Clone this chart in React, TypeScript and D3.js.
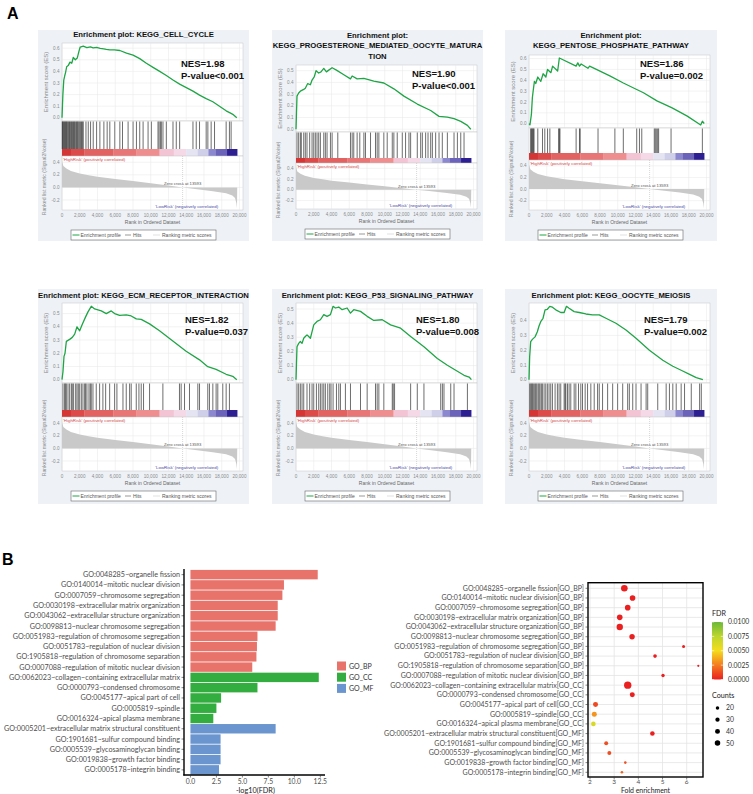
import React from 'react';
import * as d3 from 'd3';

type Pt = [number, number];

// ================= Panel A data (GSEA) =================
const gseaTitles: string[][] = [
  ['Enrichment plot: KEGG_CELL_CYCLE'],
  ['Enrichment plot:', 'KEGG_PROGESTERONE_MEDIATED_OOCYTE_MATURA', 'TION'],
  ['Enrichment plot:', 'KEGG_PENTOSE_PHOSPHATE_PATHWAY'],
  ['Enrichment plot: KEGG_ECM_RECEPTOR_INTERACTION'],
  ['Enrichment plot: KEGG_P53_SIGNALING_PATHWAY'],
  ['Enrichment plot: KEGG_OOCYTE_MEIOSIS'],
];
const gseaNes = ['NES=1.98', 'NES=1.90', 'NES=1.86', 'NES=1.82', 'NES=1.80', 'NES=1.79'];
const gseaPValues = ['P-value<0.001', 'P-value<0.001', 'P-value=0.002', 'P-value=0.037', 'P-value=0.008', 'P-value=0.002'];

const esCellCycle: Pt[] = [
  [0, 0], [100, 0.2], [200, 0.325], [300, 0.36], [400, 0.39], [525, 0.44], [700, 0.45], [900, 0.48], [1100, 0.47],
  [1270, 0.52], [1500, 0.5], [1720, 0.515], [1900, 0.57], [2050, 0.61], [2400, 0.617], [2800, 0.605], [3200, 0.612],
  [3520, 0.603], [3900, 0.607], [4300, 0.598], [4700, 0.594], [5000, 0.59], [5390, 0.586], [5900, 0.585], [6520, 0.58],
  [7270, 0.558], [8010, 0.54], [8760, 0.51], [9510, 0.47], [10260, 0.435], [11010, 0.4], [11760, 0.365], [12510, 0.326],
  [13260, 0.29], [14010, 0.26], [14760, 0.23], [15500, 0.195], [16250, 0.165], [17000, 0.138], [17750, 0.1],
  [18500, 0.06], [19000, 0.04], [19250, 0.03], [19700, 0],
];
const esProgesterone: Pt[] = [
  [0, 0], [113, 0.283], [300, 0.31], [490, 0.325], [870, 0.34], [1050, 0.35], [1320, 0.39], [1620, 0.38], [1810, 0.42],
  [2070, 0.45], [2260, 0.5], [2560, 0.48], [2820, 0.49], [3130, 0.52], [3430, 0.49], [3690, 0.505], [4070, 0.525],
  [4560, 0.505], [5390, 0.465], [6140, 0.43], [6330, 0.455], [6890, 0.43], [7650, 0.435], [8770, 0.41], [9900, 0.395],
  [11030, 0.345], [12160, 0.283], [13670, 0.215], [15180, 0.16], [16120, 0.11], [17060, 0.103], [17810, 0.09],
  [18570, 0.067], [19320, 0.033], [19700, 0],
];
const esPentose: Pt[] = [
  [0, 0], [110, -0.01], [270, 0.085], [380, 0.24], [490, 0.315], [610, 0.39], [760, 0.37], [990, 0.43], [1330, 0.39],
  [1590, 0.46], [1900, 0.43], [2090, 0.5], [2470, 0.47], [2660, 0.53], [3230, 0.485], [3420, 0.605], [5310, 0.53],
  [5500, 0.56], [5690, 0.53], [5880, 0.55], [6640, 0.51], [6830, 0.53], [9110, 0.44], [10630, 0.375], [12140, 0.315],
  [12900, 0.285], [14420, 0.21], [16130, 0.145], [17840, 0.07], [19350, -0.012], [19540, 0.022], [19750, 0.002],
];
const esEcm: Pt[] = [
  [0, 0], [110, 0.06], [225, 0.176], [340, 0.2], [490, 0.29], [860, 0.305], [1160, 0.32], [1430, 0.345], [1690, 0.4],
  [1990, 0.37], [2290, 0.42], [2660, 0.475], [2930, 0.513], [3300, 0.555], [3680, 0.535], [4430, 0.52], [4990, 0.5],
  [5550, 0.52], [5930, 0.5], [6490, 0.487], [7240, 0.49], [7800, 0.482], [8370, 0.46], [8930, 0.456], [9870, 0.422],
  [10990, 0.37], [12490, 0.293], [13990, 0.215], [15500, 0.15], [16430, 0.098], [17370, 0.078], [18500, 0.041],
  [19250, 0.026], [19700, 0],
];
const esP53: Pt[] = [
  [0, 0], [113, 0.233], [300, 0.257], [490, 0.27], [680, 0.257], [870, 0.293], [1050, 0.305], [1240, 0.317],
  [1430, 0.305], [1620, 0.293], [1810, 0.34], [2000, 0.388], [2370, 0.412], [2750, 0.424], [3130, 0.46], [3500, 0.448],
  [3880, 0.46], [4180, 0.519], [4440, 0.507], [4820, 0.514], [5200, 0.495], [5760, 0.507], [6140, 0.471], [6510, 0.495],
  [7270, 0.483], [8020, 0.448], [8770, 0.419], [9720, 0.424], [10660, 0.388], [11790, 0.364], [12920, 0.305],
  [14420, 0.233], [15930, 0.15], [17060, 0.102], [18000, 0.067], [18940, 0.031], [19510, 0.019], [19770, 0],
];
const esOocyte: Pt[] = [
  [0, 0], [75, 0.155], [190, 0.257], [380, 0.273], [680, 0.29], [940, 0.325], [1130, 0.364], [1320, 0.393],
  [1580, 0.416], [1810, 0.473], [2070, 0.477], [2340, 0.497], [2640, 0.491], [3020, 0.473], [3580, 0.455],
  [3960, 0.455], [4220, 0.497], [4520, 0.484], [5090, 0.461], [5660, 0.455], [6410, 0.445], [7160, 0.439],
  [7920, 0.439], [8670, 0.416], [9800, 0.382], [10930, 0.336], [12060, 0.28], [13570, 0.2], [15080, 0.132],
  [16210, 0.091], [17150, 0.064], [18100, 0.036], [18850, 0.014], [19600, 0.0],
];

const hitsCellCycle: number[] = [
  30, 80, 150, 230, 300, 380, 450, 520, 600, 700, 780, 850, 950, 1050, 1120, 1200, 1300, 1380, 1450, 1550, 1650, 1720,
  1800, 1900, 2000, 2100, 2200, 2300, 2400, 2700, 2960, 3220, 3520, 3900, 4270, 4720, 5090, 5390, 5950, 6520, 6820,
  7450, 8010, 8390, 8760, 9140, 9700, 10070, 10820, 10940, 11090, 11200, 11380, 11760, 12510, 12880, 13260, 14760,
  15130, 15500, 16250, 16440, 16810, 17190, 18500, 18870, 19060,
];
const hitsProgesterone: number[] = [
  113, 300, 490, 600, 870, 1050, 1240, 1540, 1810, 2000, 2180, 2370, 2560, 2750, 3130, 3310, 3500, 3880, 4070, 4710,
  6140, 6330, 6510, 6890, 7190, 7650, 7830, 8400, 8960, 9150, 9340, 9900, 10280, 10850, 11030, 11410, 11980, 12350,
  12730, 12920, 13670, 14050, 14240, 14610, 14880, 15180, 15370, 15740, 16120, 16490, 17060, 17810, 18190, 18570, 18940,
];
const hitsPentose: number[] = [
  190, 265, 340, 420, 490, 570, 990, 1520, 1780, 2090, 2350, 3340, 3420, 3490, 5310, 5690, 5770, 7780, 9680, 10630,
  12140, 12450, 12710, 14120, 14230, 14350, 14500, 14610, 16010, 19540,
];
const hitsEcm: number[] = [
  110, 300, 375, 490, 675, 860, 1050, 1160, 1310, 1540, 1690, 1840, 1990, 2180, 2360, 2550, 2660, 2810, 3040, 3190,
  3300, 3490, 3860, 4240, 4610, 4920, 5370, 5930, 6190, 6870, 7240, 7620, 7800, 8370, 8670, 8930, 9190, 9870, 11370,
  13240, 13430, 13810, 14370, 15310, 15500, 16430, 16620, 17000, 17370, 17560, 18120, 18500, 18870,
];
const hitsP53: number[] = [
  113, 300, 490, 680, 870, 1240, 1540, 1810, 2000, 2300, 2560, 2750, 2940, 3130, 3310, 3580, 3800, 3950, 4180, 4560,
  4820, 5010, 5570, 6140, 7270, 8020, 8960, 9150, 9340, 9900, 10850, 10960, 11110, 12920, 13670, 14420, 16310, 16500,
  16680, 17440, 17810, 19320,
];
const hitsOocyte: number[] = [
  75, 190, 300, 380, 490, 640, 750, 870, 1020, 1130, 1240, 1390, 1510, 1700, 1890, 2070, 2260, 2450, 2640, 2940, 3200,
  3390, 3580, 3960, 4070, 4150, 4340, 4520, 4710, 5090, 5280, 5580, 5840, 6030, 6330, 6600, 6970, 7350, 7730, 7920,
  8290, 8860, 9430, 9990, 10560, 11120, 11310, 11690, 12060, 12630, 13200, 13380, 14510, 15460, 15830, 16210, 16590,
  17150, 17530, 18290, 19230, 19420,
];

const gseaEs = [esCellCycle, esProgesterone, esPentose, esEcm, esP53, esOocyte];
const gseaHits = [hitsCellCycle, hitsProgesterone, hitsPentose, hitsEcm, hitsP53, hitsOocyte];

// ranked list metric (Signal2Noise) – same ranked list in every panel
const rankMetric: Pt[] = [
  [0, 0.42], [150, 0.34], [500, 0.3], [1000, 0.26], [2000, 0.22], [3000, 0.195], [4000, 0.17], [6000, 0.135],
  [8000, 0.1], [10000, 0.065], [12000, 0.03], [13593, 0], [15000, -0.025], [17000, -0.06], [18500, -0.095],
  [19200, -0.13], [19500, -0.17], [19650, -0.25], [19720, -0.33], [19750, 0],
];
const zeroCross = 13593;
const colorBarBreaks = [0, 1000, 2500, 5800, 8400, 11000, 12600, 14000, 15300, 16500, 17300, 18600, 19750];
const colorBarColors = ['#d43535', '#dc4a4a', '#e26161', '#e87676', '#ee8e8e', '#f3c4d4', '#f6d9e6', '#e4e4f3',
  '#cfcfea', '#8c88cf', '#6b62ba', '#2d1f92'];
const rankTicks = [0, 2000, 4000, 6000, 8000, 10000, 12000, 14000, 16000, 18000, 20000];
const rankYTicks = [0.4, 0.2, 0.0, -0.2];

// ================= Panel B data (GO) =================
const goTerms = [
  'GO:0048285~organelle fission',
  'GO:0140014~mitotic nuclear division',
  'GO:0007059~chromosome segregation',
  'GO:0030198~extracellular matrix organization',
  'GO:0043062~extracellular structure organization',
  'GO:0098813~nuclear chromosome segregation',
  'GO:0051983~regulation of chromosome segregation',
  'GO:0051783~regulation of nuclear division',
  'GO:1905818~regulation of chromosome separation',
  'GO:0007088~regulation of mitotic nuclear division',
  'GO:0062023~collagen\u2212containing extracellular matrix',
  'GO:0000793~condensed chromosome',
  'GO:0045177~apical part of cell',
  'GO:0005819~spindle',
  'GO:0016324~apical plasma membrane',
  'GO:0005201~extracellular matrix structural constituent',
  'GO:1901681~sulfur compound binding',
  'GO:0005539~glycosaminoglycan binding',
  'GO:0019838~growth factor binding',
  'GO:0005178~integrin binding',
];
const goCategory = ['GO_BP', 'GO_BP', 'GO_BP', 'GO_BP', 'GO_BP', 'GO_BP', 'GO_BP', 'GO_BP', 'GO_BP', 'GO_BP',
  'GO_CC', 'GO_CC', 'GO_CC', 'GO_CC', 'GO_CC', 'GO_MF', 'GO_MF', 'GO_MF', 'GO_MF', 'GO_MF'];
const goNegLog10FDR = [12.25, 9.0, 8.85, 8.4, 8.4, 8.2, 6.45, 6.4, 6.35, 5.95, 12.35, 6.45, 2.95, 2.5, 2.2, 8.2, 2.9,
  2.9, 2.9, 2.75];
const goFoldEnrichment = [3.42, 3.76, 3.56, 3.23, 3.23, 3.74, 5.87, 4.69, 6.48, 5.02, 3.56, 3.75, 2.23, 2.18, 2.14,
  4.58, 2.67, 2.8, 3.46, 3.32];
const goCounts = [72, 52, 52, 52, 67, 48, 15, 22, 8, 19, 90, 41, 41, 41, 35, 35, 26, 26, 11, 11];
const goCategories = ['GO_BP', 'GO_CC', 'GO_MF'];
const categoryColors = ['#e8736b', '#33ad3f', '#6a95cf'];
const barTicks = [0, 2.5, 5, 7.5, 10, 12.5];
const foldTicks = [2, 3, 4, 5, 6];
const fdrLegendTicks = [0.01, 0.0075, 0.005, 0.0025, 0];
const countLegendValues = [20, 30, 40, 50];
const fdrStops = [0, 0.0025, 0.005, 0.0075, 0.01];
const fdrColors = ['#ea2020', '#f47c20', '#f5dc1e', '#bdd62d', '#6cb83a'];

// ================= layout (not data) =================
const SANS = "'Liberation Sans', Arial, Helvetica, sans-serif";
const GOFONT = "Lato, 'Open Sans', sans-serif";
const panelLayouts = [
  { x: 38, y: 30, w: 211, h: 211, titleY: 7, esTop: 13, esBottom: 91, hitsBottom: 119, barBottom: 126, rankBottom: 180, nesX: 143, nesY: 36.5 },
  { x: 272, y: 30, w: 211, h: 211, titleY: 7.5, esTop: 35, esBottom: 102, hitsBottom: 128, barBottom: 133, rankBottom: 179, nesX: 140, nesY: 46.5 },
  { x: 505, y: 30, w: 212, h: 211, titleY: 7.5, esTop: 25, esBottom: 98, hitsBottom: 123, barBottom: 130, rankBottom: 180, nesX: 135, nesY: 36.5 },
  { x: 38, y: 289, w: 211, h: 215, titleY: 8.5, esTop: 14, esBottom: 94, hitsBottom: 121, barBottom: 128, rankBottom: 182, nesX: 147, nesY: 33.5 },
  { x: 272, y: 289, w: 211, h: 215, titleY: 8.5, esTop: 14, esBottom: 94, hitsBottom: 121, barBottom: 128, rankBottom: 182, nesX: 144, nesY: 33.5 },
  { x: 505, y: 289, w: 212, h: 215, titleY: 8.5, esTop: 14, esBottom: 94, hitsBottom: 121, barBottom: 128, rankBottom: 182, nesX: 139, nesY: 33.5 },
];

function GseaPanel({ lay, title, es, hits, nes, pval }: any) {
  const { x: bx, y: by, w, h, titleY, esTop, esBottom, hitsBottom, barBottom, rankBottom, nesX, nesY } = lay;
  const pl = 24, pr = 205;
  const xs = d3.scaleLinear().domain([0, 20400]).range([pl, pr]);
  const esMin = d3.min(es as Pt[], (d) => d[1]) as number;
  const esMax = d3.max(es as Pt[], (d) => d[1]) as number;
  const pad = (esMax - esMin) * 0.045;
  const ys = d3.scaleLinear().domain([esMin - pad, esMax + pad]).range([esBottom, esTop]);
  const yr = d3.scaleLinear().domain([-0.36, 0.5]).range([rankBottom, barBottom]);
  const esLine = d3.line<Pt>().x((d) => xs(d[0])).y((d) => ys(d[1]));
  const rankArea = d3.area<Pt>().x((d) => xs(d[0])).y0(yr(0)).y1((d) => yr(d[1]));
  const esTicks = d3.range(0, Math.floor(esMax * 10 + 1e-6) + 1).map((i) => i / 10);
  const fmtRank = d3.format(',');
  const grid = '#e6e6e6';
  const tickFill = '#8a8a8a';
  const lx = 33, lw = 145, ly = rankBottom + 20;
  return (
    <g transform={`translate(${bx},${by})`} fontFamily={SANS}>
      <rect x={0} y={0} width={w} height={h} fill="#eef2f7" />
      {title.map((t: string, i: number) => (
        <text key={i} x={w / 2} y={titleY + i * 10.5} textAnchor="middle" fontSize={7.7} fontWeight="bold" fill="#111">{t}</text>
      ))}
      {/* ES plot */}
      <rect x={pl} y={esTop} width={pr - pl} height={esBottom - esTop} fill="#fff" stroke="#c4c4c4" strokeWidth={0.5} />
      {rankTicks.map((t) => (
        <line key={'gx' + t} x1={xs(t)} x2={xs(t)} y1={esTop} y2={esBottom} stroke={grid} strokeWidth={0.5} />
      ))}
      {esTicks.map((t) => (
        <g key={'ey' + t}>
          <line x1={pl} x2={pr} y1={ys(t)} y2={ys(t)} stroke={grid} strokeWidth={0.5} />
          <text x={pl - 2.5} y={ys(t) + 1.6} textAnchor="end" fontSize={4.6} fill={tickFill}>{t.toFixed(1)}</text>
        </g>
      ))}
      <path d={esLine(es) || ''} fill="none" stroke="#1fa546" strokeWidth={1.3} strokeLinejoin="round" />
      <text x={nesX} y={nesY} fontSize={9.5} fontWeight="bold" fill="#111">{nes}</text>
      <text x={nesX} y={nesY + 12} fontSize={9.5} fontWeight="bold" fill="#111">{pval}</text>
      <text transform={`translate(9.5,${(esTop + esBottom) / 2}) rotate(-90)`} textAnchor="middle" fontSize={6} fill="#888">Enrichment score (ES)</text>
      {/* hits */}
      <rect x={pl} y={esBottom} width={pr - pl} height={barBottom - esBottom} fill="#fff" stroke="#c4c4c4" strokeWidth={0.5} />
      {hits.map((r: number, i: number) => (
        <line key={'h' + i} x1={xs(r)} x2={xs(r)} y1={esBottom + 0.5} y2={hitsBottom} stroke="#1a1a1a" strokeOpacity={0.85} strokeWidth={0.75} />
      ))}
      {colorBarColors.map((c, i) => (
        <rect key={'cb' + i} x={xs(colorBarBreaks[i])} y={hitsBottom} width={xs(colorBarBreaks[i + 1]) - xs(colorBarBreaks[i]) + 0.2} height={barBottom - hitsBottom} fill={c} />
      ))}
      {/* ranked list */}
      <rect x={pl} y={barBottom} width={pr - pl} height={rankBottom - barBottom} fill="#fff" stroke="#c4c4c4" strokeWidth={0.5} />
      {rankTicks.map((t) => (
        <line key={'rx' + t} x1={xs(t)} x2={xs(t)} y1={barBottom} y2={rankBottom} stroke={grid} strokeWidth={0.5} />
      ))}
      {rankYTicks.map((t) => (
        <g key={'ry' + t}>
          <line x1={pl} x2={pr} y1={yr(t)} y2={yr(t)} stroke={grid} strokeWidth={0.5} />
          <text x={pl - 2.5} y={yr(t) + 1.6} textAnchor="end" fontSize={4.6} fill={tickFill}>{t.toFixed(1)}</text>
        </g>
      ))}
      <path d={rankArea(rankMetric) || ''} fill="#c9c9c9" />
      <line x1={xs(zeroCross)} x2={xs(zeroCross)} y1={barBottom} y2={rankBottom} stroke="#b0b0b0" strokeWidth={0.5} strokeDasharray="1,1" />
      <text x={xs(zeroCross)} y={yr(0) - 2.2} textAnchor="middle" fontSize={4.2} fill="#555">Zero cross at 13593</text>
      <text x={pl + 1} y={barBottom + 4.8} fontSize={4.4} fill="#d24848">'HighRisk' (positively correlated)</text>
      <text x={xs(17600)} y={rankBottom - 2.5} textAnchor="end" fontSize={4.4} fill="#4a4aa6">'LowRisk' (negatively correlated)</text>
      <text transform={`translate(8,${(barBottom + rankBottom) / 2 - 6}) rotate(-90)`} textAnchor="middle" fontSize={5.2} fill="#888">Ranked list metric (Signal2Noise)</text>
      {rankTicks.map((t) => (
        <text key={'rl' + t} x={xs(t)} y={rankBottom + 6.5} textAnchor="middle" fontSize={4.6} fill={tickFill}>{fmtRank(t)}</text>
      ))}
      <text x={(pl + pr) / 2} y={rankBottom + 14} textAnchor="middle" fontSize={5} fill="#666">Rank in Ordered Dataset</text>
      {/* legend */}
      <rect x={lx} y={ly} width={lw} height={10} fill="#fff" stroke="#666" strokeWidth={0.6} />
      <line x1={lx + 1.5} x2={lx + 8.5} y1={ly + 5} y2={ly + 5} stroke="#1fa546" strokeWidth={1} />
      <text x={lx + 9.5} y={ly + 6.8} fontSize={5} fill="#555">Enrichment profile</text>
      <line x1={lx + 54} x2={lx + 60} y1={ly + 5} y2={ly + 5} stroke="#555" strokeWidth={0.6} />
      <text x={lx + 62} y={ly + 6.8} fontSize={5} fill="#555">Hits</text>
      <line x1={lx + 82} x2={lx + 89} y1={ly + 5} y2={ly + 5} stroke="#ccc" strokeWidth={0.6} />
      <text x={lx + 91} y={ly + 6.8} fontSize={5} fill="#555">Ranking metric scores</text>
    </g>
  );
}

function GoBarChart() {
  const x = d3.scaleLinear().domain([-0.62, 12.95]).range([184, 325]);
  const y = d3.scaleBand().domain(goTerms).range([569.5, 775]).paddingInner(0.08).paddingOuter(0.04);
  const color = d3.scaleOrdinal<string, string>().domain(goCategories).range(categoryColors);
  return (
    <g fontFamily={GOFONT}>
      {goTerms.map((t, i) => (
        <rect key={t} x={x(0)} y={y(t)} width={x(goNegLog10FDR[i]) - x(0)} height={y.bandwidth()} fill={color(goCategory[i])} />
      ))}
      {goTerms.map((t) => {
        const cy = (y(t) as number) + y.bandwidth() / 2;
        return (
          <g key={'l' + t}>
            <line x1={181.5} x2={184} y1={cy} y2={cy} stroke="#333" strokeWidth={0.6} />
            <text x={180} y={cy + 2.5} textAnchor="end" fontSize={7.2} fill="#4d4d4d">{t}</text>
          </g>
        );
      })}
      <line x1={184} x2={184} y1={569} y2={775.5} stroke="#000" strokeWidth={1.4} />
      <line x1={183.3} x2={325} y1={775} y2={775} stroke="#000" strokeWidth={1.4} />
      {barTicks.map((t) => (
        <g key={'bt' + t}>
          <line x1={x(t)} x2={x(t)} y1={775} y2={777.5} stroke="#333" strokeWidth={0.6} />
          <text x={x(t)} y={783.5} textAnchor="middle" fontSize={6.8} fill="#4d4d4d">{t.toFixed(1)}</text>
        </g>
      ))}
      <text x={(x(0) + x(12.5)) / 2} y={792.5} textAnchor="middle" fontSize={7.3} fill="#222">-log10(FDR)</text>
      {goCategories.map((c, i) => (
        <g key={'lg' + c}>
          <rect x={337} y={661.5 + i * 11.2} width={9} height={9} fill={categoryColors[i]} />
          <text x={349} y={668.8 + i * 11.2} fontSize={7} fill="#333">{c}</text>
        </g>
      ))}
    </g>
  );
}

function GoDotPlot() {
  const x = d3.scaleLinear().domain([2, 6]).range([590, 686.7]);
  const y = d3.scalePoint().domain(goTerms).range([588.3, 772.3]);
  const r = d3.scaleSqrt().domain([0, 100]).range([0, 3.9]);
  const fdrColor = d3.scaleLinear<string>().domain(fdrStops).range(fdrColors).clamp(true);
  const left = 588, right = 703, top = 582.7, bottom = 777;
  const cbTop = 622, cbBottom = 679.5;
  const cbScale = d3.scaleLinear().domain([0, 0.01]).range([cbBottom, cbTop]);
  return (
    <g fontFamily={GOFONT}>
      <defs>
        <linearGradient id="fdrGrad" x1="0" y1="1" x2="0" y2="0">
          {fdrStops.map((s, i) => (
            <stop key={i} offset={`${(s / 0.01) * 100}%`} stopColor={fdrColors[i]} />
          ))}
        </linearGradient>
      </defs>
      <rect x={left} y={top} width={right - left} height={bottom - top} fill="#fff" />
      {goTerms.map((t) => (
        <line key={'gh' + t} x1={left} x2={right} y1={y(t)} y2={y(t)} stroke="#e3e3e3" strokeWidth={0.8} />
      ))}
      {foldTicks.map((t) => (
        <line key={'gv' + t} x1={x(t)} x2={x(t)} y1={top} y2={bottom} stroke="#e3e3e3" strokeWidth={0.8} />
      ))}
      {goTerms.map((t, i) => (
        <circle key={'c' + t} cx={x(goFoldEnrichment[i])} cy={y(t)} r={r(goCounts[i])} fill={fdrColor(Math.pow(10, -goNegLog10FDR[i]))} />
      ))}
      <rect x={left} y={top} width={right - left} height={bottom - top} fill="none" stroke="#000" strokeWidth={1.4} />
      {goTerms.map((t, i) => (
        <g key={'dl' + t}>
          <line x1={585.5} x2={588} y1={y(t)} y2={y(t)} stroke="#333" strokeWidth={0.6} />
          <text x={584} y={(y(t) as number) + 2.4} textAnchor="end" fontSize={7} fill="#4d4d4d">{`${t}[${goCategory[i]}]`}</text>
        </g>
      ))}
      {foldTicks.map((t) => (
        <g key={'ft' + t}>
          <line x1={x(t)} x2={x(t)} y1={bottom} y2={bottom + 2.5} stroke="#333" strokeWidth={0.6} />
          <text x={x(t)} y={784.3} textAnchor="middle" fontSize={6.5} fill="#4d4d4d">{t}</text>
        </g>
      ))}
      <text x={(left + right) / 2} y={793.3} textAnchor="middle" fontSize={6.9} fill="#222">Fold enrichment</text>
      {/* FDR legend */}
      <text x={712} y={616} fontSize={7.2} fill="#222">FDR</text>
      <rect x={712} y={cbTop} width={11} height={cbBottom - cbTop} fill="url(#fdrGrad)" />
      {fdrLegendTicks.map((t) => (
        <g key={'fl' + t}>
          <line x1={712} x2={714.2} y1={cbScale(t)} y2={cbScale(t)} stroke="#fff" strokeWidth={0.6} />
          <line x1={720.8} x2={723} y1={cbScale(t)} y2={cbScale(t)} stroke="#fff" strokeWidth={0.6} />
          <text x={728} y={cbScale(t) + 2.4} fontSize={6.8} fill="#333">{t.toFixed(4)}</text>
        </g>
      ))}
      <text x={712} y={698} fontSize={7.2} fill="#222">Counts</text>
      {countLegendValues.map((v, i) => (
        <g key={'cl' + v}>
          <circle cx={717.5} cy={708 + i * 11.7} r={r(v)} fill="#000" />
          <text x={726} y={708 + i * 11.7 + 2.4} fontSize={6.8} fill="#333">{v}</text>
        </g>
      ))}
    </g>
  );
}

export default function App() {
  return (
    <svg width={753} height={794} style={{ position: 'absolute', left: 0, top: 0, background: '#fff' }}>
      <rect x={0} y={0} width={753} height={794} fill="#fff" />
      <text x={7} y={19} fontSize={16} fontWeight="bold" fontFamily={SANS} fill="#000">A</text>
      {panelLayouts.map((lay, i) => (
        <GseaPanel key={i} lay={lay} title={gseaTitles[i]} es={gseaEs[i]} hits={gseaHits[i]} nes={gseaNes[i]} pval={gseaPValues[i]} />
      ))}
      <text x={2} y={565} fontSize={16} fontWeight="bold" fontFamily={SANS} fill="#000">B</text>
      <GoBarChart />
      <GoDotPlot />
    </svg>
  );
}
